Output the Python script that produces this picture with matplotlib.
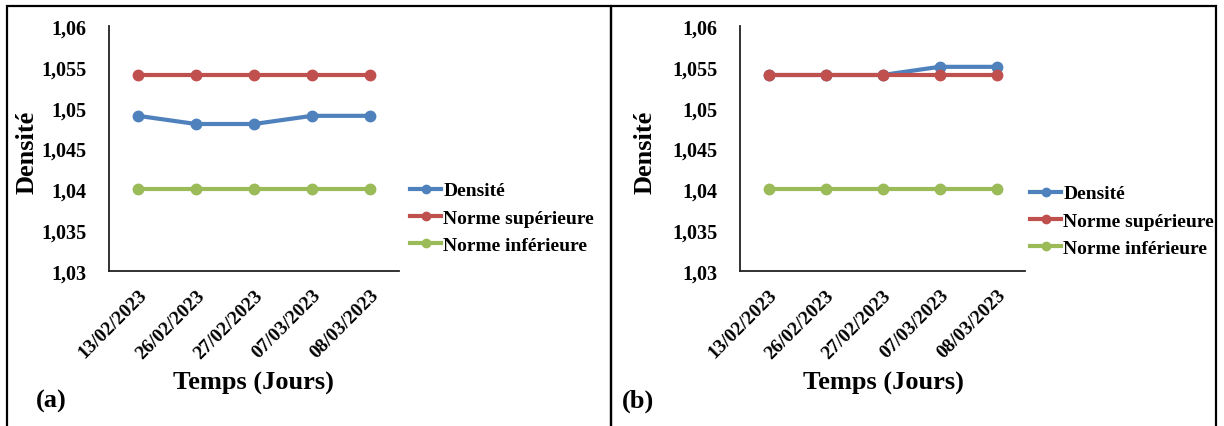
import matplotlib.pyplot as plt
from matplotlib.patches import Rectangle

dates = ["13/02/2023", "26/02/2023", "27/02/2023", "07/03/2023", "08/03/2023"]
dens_a = [1.049, 1.048, 1.048, 1.049, 1.049]
dens_b = [1.054, 1.054, 1.054, 1.055, 1.055]
norme_sup = [1.054, 1.054, 1.054, 1.054, 1.054]
norme_inf = [1.040, 1.040, 1.040, 1.040, 1.040]
yticks = [1.03, 1.035, 1.04, 1.045, 1.05, 1.055, 1.06]
ytick_labels = ["1,03", "1,035", "1,04", "1,045", "1,05", "1,055", "1,06"]

plt.rcParams['font.family'] = ['Liberation Serif', 'DejaVu Serif']
plt.rcParams['font.weight'] = 'bold'

W, H = 1224, 427
fig = plt.figure(figsize=(W / 100, H / 100), dpi=100)

blue = '#4F81BD'
red = '#C0504D'
green = '#9BBB59'


def panel(x0, x1, dens, tag, leg_x, leg_y, xl, ylx, tagx):
    ax = fig.add_axes([x0 / W, 1 - 272 / H, (x1 - x0) / W, 245 / H])
    x = range(len(dates))
    kw = dict(lw=3, marker='o', ms=7.5)
    ax.plot(x, dens, color=blue, label='Densité', **kw)
    ax.plot(x, norme_sup, color=red, label='Norme supérieure', **kw)
    ax.plot(x, norme_inf, color=green, label='Norme inférieure', **kw)
    ax.set_xlim(-0.5, len(dates) - 0.5)
    ax.set_ylim(1.03, 1.06)
    ax.set_yticks(yticks)
    ax.set_yticklabels(ytick_labels, fontsize=14.5, fontweight='bold')
    ax.set_xticks(list(x))
    ax.set_xticklabels(dates, rotation=45, ha='right', rotation_mode='anchor',
                       fontsize=14, fontweight='bold')
    ax.tick_params(axis='both', length=0)
    ax.tick_params(axis='y', pad=16)
    ax.tick_params(axis='x', pad=11)
    for s in ['top', 'right']:
        ax.spines[s].set_visible(False)
    for s in ['left', 'bottom']:
        ax.spines[s].set_linewidth(1.3)
        ax.spines[s].set_color('#222222')
    ax.patch.set_alpha(0)
    fig.text(xl / W, 1 - 383 / H, 'Temps (Jours)', ha='center', va='center',
             fontsize=19, fontweight='bold')
    fig.text(ylx / W, 1 - 152 / H, 'Densité', ha='center', va='center',
             rotation=90, fontsize=19, fontweight='bold')
    fig.text(tagx / W, 1 - 401 / H, tag, ha='left', va='center',
             fontsize=19, fontweight='bold')
    ax.legend(loc='center left', bbox_to_anchor=(leg_x / W, 1 - leg_y / H),
              bbox_transform=fig.transFigure, frameon=False,
              prop={'size': 14, 'weight': 'bold'}, handlelength=1.6,
              handletextpad=0.12, labelspacing=0.5, borderaxespad=0,
              borderpad=0, markerscale=0.8)
    return ax


panel(109, 399, dens_a, '(a)', 410, 219, 253, 27, 36)
panel(740, 1025, dens_b, '(b)', 1030, 222, 883, 645, 622)

# panel borders
fig.add_artist(Rectangle((6.5 / W, -0.05), (611 - 6.5) / W, (1 - 7 / H) + 0.05,
                         transform=fig.transFigure, fill=False, lw=1.6,
                         edgecolor='black'))
fig.add_artist(Rectangle((611 / W, -0.05), (1216 - 611) / W, (1 - 7 / H) + 0.05,
                         transform=fig.transFigure, fill=False, lw=1.6,
                         edgecolor='black'))

fig.savefig('out.png', dpi=100)
